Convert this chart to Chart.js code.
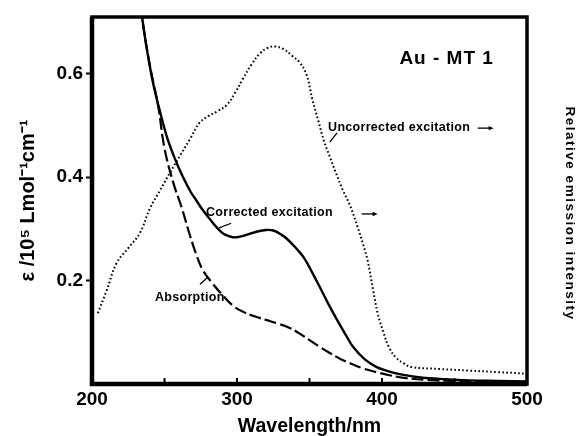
<!DOCTYPE html>
<html>
<head>
<meta charset="utf-8">
<script src="https://cdn.jsdelivr.net/npm/chart.js@4"></script>
<style>
  html, body { margin: 0; padding: 0; background: #fff; }
  #wrap { width: 577px; height: 436px; }
</style>
</head>
<body>
<div id="wrap"><canvas id="spectra" width="577" height="436"></canvas></div>
<script>
// wavelengths (nm) and values
const uncorrectedX = [204, 210, 217, 225, 233, 240, 247, 254, 261, 268, 274, 280, 286, 293, 299, 304, 310, 316, 321, 326, 332, 338, 343, 348, 352, 356, 360, 364, 368, 373, 378, 383, 387, 390, 394, 397, 401, 405, 410, 415, 420, 440, 460, 480, 500];
const uncorrectedY = [0.137, 0.18, 0.234, 0.263, 0.292, 0.34, 0.375, 0.41, 0.443, 0.476, 0.505, 0.518, 0.527, 0.54, 0.565, 0.59, 0.618, 0.64, 0.65, 0.653, 0.648, 0.635, 0.623, 0.598, 0.55, 0.51, 0.47, 0.44, 0.41, 0.375, 0.345, 0.305, 0.27, 0.24, 0.18, 0.137, 0.1, 0.07, 0.05, 0.04, 0.033, 0.029, 0.026, 0.023, 0.02];

const correctedX = [230, 234.5, 238, 242, 247, 252, 257, 262, 268, 272, 276, 281, 286, 291, 297, 302, 308, 314, 320, 325, 330, 334, 340, 346, 352, 357, 363, 369, 375, 380, 388, 396, 404, 412, 425, 440, 460, 480, 500];
const correctedY = [0.8, 0.71, 0.645, 0.584, 0.526, 0.475, 0.437, 0.405, 0.372, 0.355, 0.338, 0.32, 0.303, 0.29, 0.284, 0.285, 0.29, 0.295, 0.298, 0.297, 0.29, 0.282, 0.265, 0.245, 0.215, 0.188, 0.155, 0.124, 0.095, 0.072, 0.048, 0.033, 0.025, 0.019, 0.013, 0.01, 0.007, 0.006, 0.005];

const absorptionX = [230, 234.5, 240, 245.5, 250, 256, 262, 267.5, 272, 276.5, 283, 290, 297, 304, 312, 320, 328, 336, 343, 350, 357, 364, 371, 378, 387, 396, 405, 415, 430, 450, 475, 500];
const absorptionY = [0.82, 0.71, 0.615, 0.54, 0.456, 0.39, 0.34, 0.288, 0.25, 0.22, 0.195, 0.172, 0.152, 0.14, 0.131, 0.124, 0.117, 0.109, 0.098, 0.085, 0.072, 0.06, 0.049, 0.04, 0.03, 0.023, 0.017, 0.012, 0.008, 0.006, 0.005, 0.004];

const xTickLabels = [200, 300, 400, 500];
const xMinorTicks = [250, 300, 350, 400, 450];
const yTickLabels = [0.2, 0.4, 0.6];

// labels written inside the plot, placed in data units
const notes = [
    { text: 'Au - MT 1', x: 412, y: 0.629, size: 19 },
    { text: 'Uncorrected excitation', x: 362.8, y: 0.497, size: 12.5, arrow: [466, 477, 0.495], pointer: [369, 0.486, 364, 0.468] },
    { text: 'Corrected excitation', x: 278.6, y: 0.331, size: 12.5, arrow: [386, 397, 0.329], pointer: [296, 0.311, 287.6, 0.302] },
    { text: 'Absorption', x: 243.4, y: 0.168, size: 12.5, pointer: [280, 0.207, 274.5, 0.193] }
];

const FONT = "'Liberation Sans', Arial, sans-serif";
const toPoints = (xs, ys) => xs.map((x, i) => ({ x: x, y: ys[i] }));

const decorPlugin = {
    id: 'decor',
    afterDatasetsDraw(chart) {
        const { ctx, chartArea: a, scales: { x, y } } = chart;
        ctx.save();
        ctx.strokeStyle = '#000';
        ctx.fillStyle = '#000';

        // heavy frame
        ctx.lineWidth = 3.5;
        ctx.strokeRect(a.left, a.top, a.right - a.left, a.bottom - a.top);
        ctx.lineWidth = 4.5;
        ctx.beginPath();
        ctx.moveTo(a.left, a.top);
        ctx.lineTo(a.left, a.bottom);
        ctx.lineTo(a.right, a.bottom);
        ctx.stroke();

        // inward ticks on the wavelength axis
        ctx.lineWidth = 2;
        xMinorTicks.forEach(v => {
            const px = x.getPixelForValue(v);
            ctx.beginPath();
            ctx.moveTo(px, a.bottom);
            ctx.lineTo(px, a.bottom - 6);
            ctx.stroke();
        });

        // notes
        ctx.textBaseline = 'middle';
        ctx.textAlign = 'left';
        notes.forEach(n => {
            ctx.font = `bold ${n.size}px ${FONT}`;
            ctx.letterSpacing = n.size < 15 ? '0.3px' : '1px';
            ctx.fillText(n.text, x.getPixelForValue(n.x), y.getPixelForValue(n.y));
            ctx.letterSpacing = '0px';
            ctx.lineWidth = 1.3;
            if (n.pointer) {
                ctx.beginPath();
                ctx.moveTo(x.getPixelForValue(n.pointer[0]), y.getPixelForValue(n.pointer[1]));
                ctx.lineTo(x.getPixelForValue(n.pointer[2]), y.getPixelForValue(n.pointer[3]));
                ctx.stroke();
            }
            if (n.arrow) {
                const x0 = x.getPixelForValue(n.arrow[0]);
                const x1 = x.getPixelForValue(n.arrow[1]);
                const py = y.getPixelForValue(n.arrow[2]);
                ctx.beginPath();
                ctx.moveTo(x0, py);
                ctx.lineTo(x1 - 4, py);
                ctx.stroke();
                ctx.beginPath();
                ctx.moveTo(x1, py);
                ctx.lineTo(x1 - 5, py - 2.2);
                ctx.lineTo(x1 - 5, py + 2.2);
                ctx.closePath();
                ctx.fill();
            }
        });

        // right-hand axis title
        ctx.translate(570, (a.top + a.bottom) / 2 + 13);
        ctx.rotate(Math.PI / 2);
        ctx.textAlign = 'center';
        ctx.font = `bold 13.5px ${FONT}`;
        ctx.letterSpacing = '1.5px';
        ctx.fillText('Relative emission intensity', 0, 0);
        ctx.restore();
    }
};

const ctx = document.getElementById('spectra');
new Chart(ctx, {
    type: 'line',
    data: {
        datasets: [
            {
                label: 'Uncorrected excitation',
                data: toPoints(uncorrectedX, uncorrectedY),
                borderColor: '#000',
                borderWidth: 2,
                borderDash: [1.6, 2.4],
                pointRadius: 0,
                tension: 0.4,
                fill: false
            },
            {
                label: 'Corrected excitation',
                data: toPoints(correctedX, correctedY),
                borderColor: '#000',
                borderWidth: 2.4,
                pointRadius: 0,
                tension: 0.4,
                fill: false
            },
            {
                label: 'Absorption',
                data: toPoints(absorptionX, absorptionY),
                borderColor: '#000',
                borderWidth: 2.2,
                borderDash: [12, 4],
                pointRadius: 0,
                tension: 0.4,
                fill: false
            }
        ]
    },
    options: {
        responsive: false,
        animation: false,
        layout: { padding: { left: 0, top: 17, right: 0, bottom: 0 } },
        plugins: {
            legend: { display: false },
            tooltip: { enabled: false }
        },
        scales: {
            x: {
                type: 'linear',
                min: 200,
                max: 500,
                afterBuildTicks: (s) => { s.ticks = xTickLabels.map(v => ({ value: v })); },
                afterFit: (s) => { s.height = 52; },
                grid: { display: false, drawTicks: false },
                border: { display: false },
                ticks: {
                    color: '#000',
                    padding: 4,
                    maxRotation: 0,
                    font: { family: FONT, size: 19, weight: 'bold' }
                },
                title: {
                    display: true,
                    text: 'Wavelength/nm',
                    color: '#000',
                    padding: { top: 0, bottom: 0 },
                    font: { family: FONT, size: 19.5, weight: 'bold', lineHeight: 1.0 }
                }
            },
            y: {
                min: 0,
                max: 0.71,
                afterBuildTicks: (s) => { s.ticks = yTickLabels.map(v => ({ value: v })); },
                afterFit: (s) => { s.width = 92; },
                grid: { drawOnChartArea: false, drawTicks: true, tickLength: 6, tickWidth: 2, tickColor: '#000' },
                border: { display: false },
                ticks: {
                    color: '#000',
                    padding: 3,
                    callback: (v) => v.toFixed(1),
                    font: { family: FONT, size: 19, weight: 'bold' }
                },
                title: {
                    display: true,
                    text: 'ε /10⁵ Lmol⁻¹cm⁻¹',
                    color: '#000',
                    padding: { top: 16, bottom: 0 },
                    font: { family: FONT, size: 20, weight: 'bold' }
                }
            },
            y2: {
                position: 'right',
                min: 0,
                max: 1,
                afterFit: (s) => { s.width = 50; },
                grid: { display: false },
                border: { display: false },
                ticks: { display: false }
            }
        }
    },
    plugins: [decorPlugin]
});
</script>
</body>
</html>
